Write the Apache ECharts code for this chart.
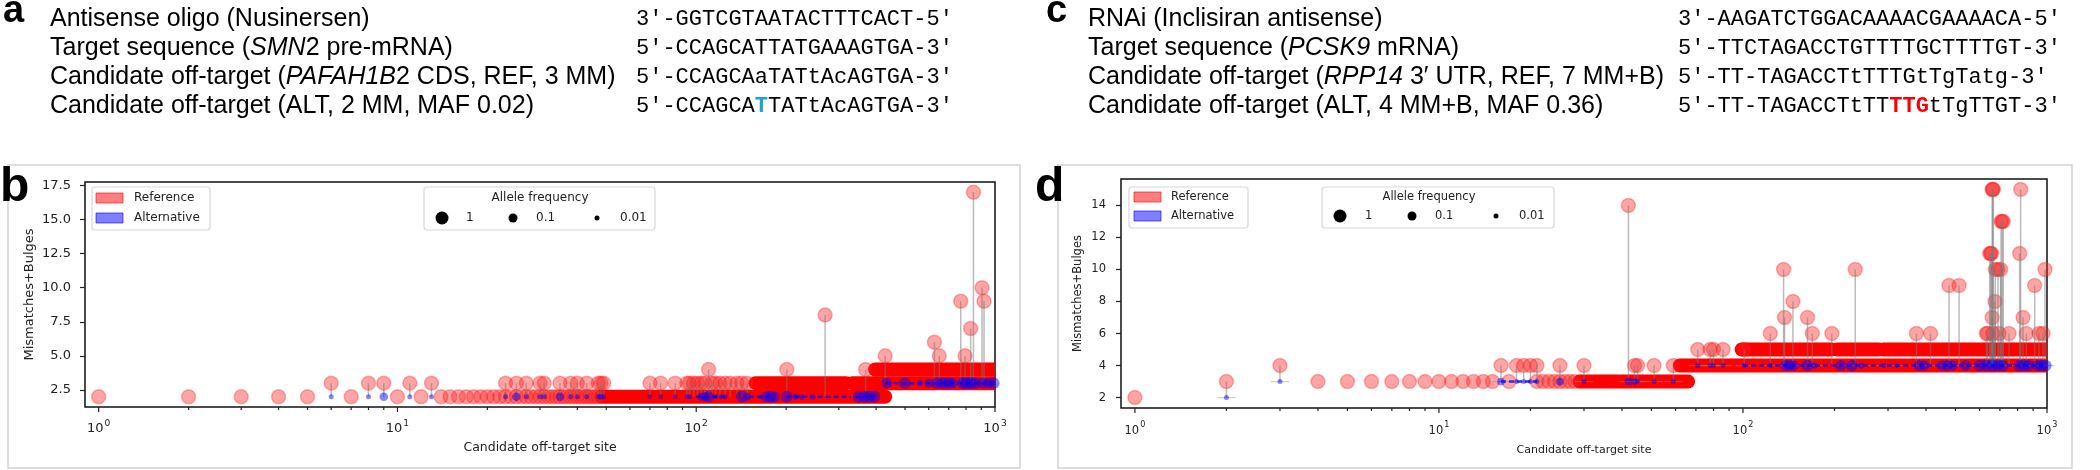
<!DOCTYPE html>
<html><head><meta charset="utf-8">
<script src="https://cdn.jsdelivr.net/npm/echarts@6/dist/echarts.min.js"></script>
<style>html,body{margin:0;padding:0;background:#fff}#c{width:2100px;height:470px}</style>
</head><body><div id="c"></div>
<script>
// ---------------- DATA ----------------
const panelALabels = ['Antisense oligo (Nusinersen)', 'Target sequence ({i|SMN}2 pre-mRNA)', 'Candidate off-target ({i|PAFAH1B}2 CDS, REF, 3 MM)', 'Candidate off-target (ALT, 2 MM, MAF 0.02)'];
const panelASeqs = ['3\u2032-GGTCGTAATACTTTCACT-5\u2032', '5\u2032-CCAGCATTATGAAAGTGA-3\u2032', '5\u2032-CCAGCAaTATtAcAGTGA-3\u2032', '5\u2032-CCAGCA{h|T}TATtAcAGTGA-3\u2032'];
const panelCLabels = ['RNAi (Inclisiran antisense)', 'Target sequence ({i|PCSK9} mRNA)', 'Candidate off-target ({i|RPP14} 3\u2032 UTR, REF, 7 MM+B)', 'Candidate off-target (ALT, 4 MM+B, MAF 0.36)'];
const panelCSeqs = ['3\u2032-AAGATCTGGACAAAACGAAAACA-5\u2032', '5\u2032-TTCTAGACCTGTTTTGCTTTTGT-3\u2032', '5\u2032-TT-TAGACCTtTTTGtTgTatg-3\u2032', '5\u2032-TT-TAGACCTtTT{r|TTG}tTgTTGT-3\u2032'];

const xMajorTicks = [1, 10, 100, 1000];
const xMinorTicks = [2,3,4,5,6,7,8,9,20,30,40,50,60,70,80,90,200,300,400,500,600,700,800,900];
const yTicksB = [2.5, 5, 7.5, 10, 12.5, 15, 17.5];
const yTicksD = [2, 4, 6, 8, 10, 12, 14];
const afLegend = [1, 0.1, 0.01];

// [site rank, REF mismatches+bulges, ALT mismatches+bulges (stem base, optional)]
const refPointsB = [
 [1,2],[2,2],[3,2],[4,2],[5,2],[6,3,2],[7,2],[8,3,2],[9,3,2],[10,2],[11,3,2],[12,2],[13,3,2],
 [14,2],[15,2],[16,2],[17,2],[18,2],[19,2],[20,2],[21,2],[22,2],[23,2],[24,2],[25,2],[26,2],[27,2],[28,2],[29,2],[30,2],
 [31,2],[32,2],[33,2],[34,2],[35,2],[36,2],[37,2],[38,2],[39,2],[40,2],[41,2],[42,2],[43,2],[44,2],[45,2],[46,2],[47,2],
 [23,3,2],[25,3,2],[27,3,2],[30,3,2],[31,3,2],[35,3,2],[38,3,2],[40,3,2],[43,3,2],[47,3,2],[48,3,2],[49,3,2],[70,3,2],
 [76,3,2],[85,3,2],[93,3,2],[95,3,2],[98,3,2],[101,3,2],[104,3,2],[107,3,2],[113,3,2],[116,3,2],[120,3,2],[125,3,2],
 [130,3,2],[137,3,2],[142,3,2],[148,3,2],
 [110,4,2],[201,4,2],[270,8,2],[369,4,2],[429,5,3],[627,6,3],[651,5,3],[768,9,3],[794,5,3],[829,7,3],[847,17,3],[905,10,3],[919,9,3]
];
// dense runs of consecutive sites: [first rank, last rank, value]
const refBandsB = [[48,429,2],[158,318,3],[333,1000,3],[397,1000,4]];
// [site rank, ALT value, allele frequency]
const altPointsB = [
 [6,2,0.01],[8,2,0.01],[9,2,0.08],[11,2,0.01],[13,2,0.01],[23,2,0.01],[25,2,0.08],[27,2,0.01],[30,2,0.01],[31,2,0.01],
 [35,2,0.08],[38,2,0.01],[40,2,0.01],[43,2,0.01],[47,2,0.01],[48,2,0.02],[49,2,0.01],[70,2,0.01],[76,2,0.01],[85,2,0.01],
 [93,2,0.01],[95,2,0.01],[104,2,0.05],[107,2,0.1],[110,2,0.3],[116,2,0.01],[121,2,0.01],[125,2,0.01],[142,2,0.5],[148,2,0.05],
 [165,2,0.01],[172,2,0.3],[177,2,0.5],[183,2,0.3],[201,2,0.5],[215,2,0.02],[225,2,0.02],[245,2,0.02],[350,2,0.5],[365,2,0.6],
 [380,2,0.6],[395,2,0.5],[434,3,0.3],[500,3,0.5],[560,3,0.02],[600,3,0.1],[640,3,0.5],[670,3,0.6],[700,3,0.5],[720,3,0.3],
 [780,3,0.5],[800,3,0.6],[830,3,0.6],[860,3,0.4],[910,3,0.3],[950,3,0.3],[990,3,0.5]
];
const altBandsB = [[100,125,2],[150,175,2],[200,245,2],[255,330,2],[340,400,2],[430,1000,3]];

const refPointsD = [
 [1,2],[2,3,2],[3,4,3],[4,3],[5,3],[6,3],[7,3],[8,3],[9,3],[10,3],[11,3],[12,3],[13,3],[14,3],[15,3],[16,4,3],[17,3],
 [18,4,3],[19,4,3],[20,4,3],[21,4,3],[21,3],[22,3],[23,3],[24,3],[25,3],[25,4,3],[26,3],[27,3],[28,3],[30,4,3],[42,14,3],
 [44,4,3],[45,4,3],[51,4,3],[59,4,3],[71,5,4],[78,5,4],[80,5,4],[86,5,4],[101,5,4],
 [123,6,4],[136,10,4],[137,7,4],[146,8,4],[163,7,4],[169,6,4],[196,6,4],[234,10,4],[372,6,4],[414,6,4],[476,9,4],[514,9,4],
 [632,6,4],[637,6,4],[648,11,4],[653,11,4],[657,11,4],[660,15,4],[663,15,4],[666,15,4],[660,7,4],[664,6,4],[674,8,4],
 [676,10,4],[690,10,4],[695,6,4],[704,10,4],[706,13,4],[712,13,4],[718,13,4],[750,6,4],[813,11,4],[819,15,4],[834,7,4],
 [855,6,4],[911,9,4],[941,6,4],[970,6,4],[985,10,4]
];
const refBandsD = [[29,66,3],[62,1000,4],[99,196,5],[204,280,5],[290,1000,5]];
const altPointsD = [
 [2,2,0.01],[3,3,0.01],[16,3,0.05],[18,3,0.01],[19,3,0.01],[20,3,0.01],[21,3,0.01],[25,3,0.05],[30,3,0.01],[42,3,0.05],
 [44,3,0.02],[45,3,0.01],[51,3,0.01],[59,3,0.01],[71,4,0.01],[78,4,0.01],[80,4,0.01],[86,4,0.01],[101,4,0.01],[123,4,0.01],
 [138,4,0.3],[142,4,0.3],[147,4,0.2],[163,4,0.5],[172,4,0.02],[210,4,0.3],[228,4,0.5],[245,4,0.02],[290,4,0.01],[320,4,0.01],
 [380,4,0.3],[395,4,0.2],[450,4,0.2],[470,4,0.3],[490,4,0.2],[540,4,0.3],[600,4,0.5],[630,4,0.6],[660,4,0.8],[690,4,0.6],
 [715,4,0.5],[810,4,0.5],[840,4,0.6],[870,4,0.4],[930,4,0.3],[960,4,0.5],[990,4,0.5]
];
const altBandsD = [[16,21,3],[100,1000,4]];

// ---------------- STYLE / LAYOUT ----------------
const PF = 'DejaVu Sans';
const TF = 'Liberation Sans, Arial, sans-serif';
const MF = 'Liberation Mono, Courier New, monospace';
const REF_FILL = 'rgba(255,30,30,0.5)';
const ALT_FILL = 'rgba(0,0,255,0.6)';
function afSize(af) { return Math.max(3, 13 + 4 * Math.log10(af)); }

const P = {
  b: {grid: {left: 85, top: 182, width: 910, height: 225}, ymin: 1.25, ymax: 17.75, fs: 13, nameGap: 49, xNameGap: 34, lblMargin: 14, xlblMargin: 12},
  d: {grid: {left: 1121, top: 179, width: 926, height: 229}, ymin: 1.35, ymax: 15.65, fs: 11.5, nameGap: 37, xNameGap: 37, lblMargin: 15, xlblMargin: 13}
};

function xLabelFmt(v) {
  const e = Math.round(Math.log10(v));
  if (Math.abs(v - Math.pow(10, e)) > 1e-6 * v) return '';
  return '{b|10}{s|' + e + '}';
}

function xAxisCfg(gi, cfg) {
  return {
    type: 'log', logBase: 10, gridIndex: gi, min: 0.9, max: 1000,
    axisLine: {show: false}, axisTick: {show: false}, splitLine: {show: false}, minorTick: {show: false},
    axisLabel: {showMinLabel: false, formatter: xLabelFmt, margin: cfg.xlblMargin,
      rich: {
        b: {fontSize: cfg.fs, fontFamily: PF, color: '#222', lineHeight: 16, verticalAlign: 'bottom'},
        s: {fontSize: cfg.fs * 0.7, fontFamily: PF, color: '#222', lineHeight: 9, verticalAlign: 'top', padding: [0, 0, 0, 1]}
      }},
    name: 'Candidate off-target site', nameLocation: 'middle', nameGap: cfg.xNameGap,
    nameTextStyle: {fontSize: cfg.fs - 0.5, fontFamily: PF, color: '#222'}
  };
}
function yAxisCfg(gi, cfg, ticks, fmt) {
  return {
    type: 'value', gridIndex: gi, min: cfg.ymin, max: cfg.ymax,
    axisLine: {show: false}, splitLine: {show: false},
    axisTick: {show: true, length: 5, customValues: ticks, lineStyle: {color: '#222', width: 1.2}},
    axisLabel: {customValues: ticks, formatter: fmt, margin: cfg.lblMargin, fontSize: cfg.fs, fontFamily: PF, color: '#222'},
    name: 'Mismatches+Bulges', nameLocation: 'middle', nameGap: cfg.nameGap, nameRotate: 90,
    nameTextStyle: {fontSize: cfg.fs, fontFamily: PF, color: '#222'}
  };
}

function lineRun(gi, data, stroke, width, dash, z) {
  return {type: 'custom', xAxisIndex: gi, yAxisIndex: gi, clip: true, z: z, silent: true, animation: false,
    data: data, encode: {x: [0, 1], y: 2},
    renderItem: function (p, api) {
      const y = api.value(2);
      const a = api.coord([api.value(0), y]), b = api.coord([api.value(1), y]);
      return {type: 'line', shape: {x1: a[0], y1: a[1], x2: b[0], y2: b[1]},
        style: {stroke: stroke, lineWidth: width, lineCap: dash ? 'butt' : 'round', lineDash: dash || null}};
    }};
}
function tickSeries(gi, values, yMin, len) {
  return {type: 'custom', xAxisIndex: gi, yAxisIndex: gi, clip: false, z: 10, silent: true, animation: false,
    data: values.map(v => [v, yMin]), encode: {x: 0, y: 1},
    renderItem: function (p, api) {
      const a = api.coord([api.value(0), api.value(1)]);
      return {type: 'line', shape: {x1: a[0], y1: a[1], x2: a[0], y2: a[1] + len}, style: {stroke: '#222', lineWidth: 1.2}};
    }};
}
function panelSeries(gi, cfg, refPoints, refBands, altPoints, altBands, altBars) {
  const s = [];
  s.push(lineRun(gi, refBands, 'rgb(255,0,0)', 14, null, 2));
  s.push({type: 'scatter', name: 'Reference', xAxisIndex: gi, yAxisIndex: gi, z: 3, silent: true, animation: false,
    symbolSize: 14, data: refPoints.map(p => [p[0], p[1]]),
    itemStyle: {color: REF_FILL, borderColor: 'rgba(255,0,0,0.35)', borderWidth: 1.5}});
  s.push({type: 'custom', xAxisIndex: gi, yAxisIndex: gi, clip: true, z: 4, silent: true, animation: false,
    data: refPoints.filter(p => p.length > 2), encode: {x: 0, y: [1, 2]},
    renderItem: function (p, api) {
      const a = api.coord([api.value(0), api.value(2)]), b = api.coord([api.value(0), api.value(1)]);
      return {type: 'line', shape: {x1: a[0], y1: a[1], x2: b[0], y2: b[1]}, style: {stroke: 'rgba(120,120,120,0.5)', lineWidth: 1.5}};
    }});
  if (altBars) {
    s.push({type: 'scatter', xAxisIndex: gi, yAxisIndex: gi, z: 4, silent: true, animation: false,
      symbol: 'rect', symbolSize: [18, 1.2], data: altPoints.map(p => [p[0], p[1]]),
      itemStyle: {color: 'rgba(140,140,140,0.55)'}});
  }
  s.push(lineRun(gi, altBands, 'rgba(0,0,255,0.75)', 2.5, [5, 3], 5));
  s.push({type: 'scatter', name: 'Alternative', xAxisIndex: gi, yAxisIndex: gi, z: 6, silent: true, animation: false,
    data: altPoints, symbolSize: v => afSize(v[2]), itemStyle: {color: ALT_FILL}});
  s.push(tickSeries(gi, xMajorTicks, cfg.ymin, 5));
  s.push(tickSeries(gi, xMinorTicks, cfg.ymin, 3));
  return s;
}

// ---------------- GRAPHIC (text panels, frames, legends) ----------------
const textRowsY = [19, 48, 77, 106];
const G = [];
function txt(x, y, text, font, extra) {
  G.push({type: 'text', x: x, y: y, z: 20, silent: true,
    style: Object.assign({text: text, font: font, fill: '#000', verticalAlign: 'middle', align: 'left'}, extra || {})});
}
const LBL_FS = 25, SEQ_FS = 22;
const labelRich = {i: {fontStyle: 'italic', fontSize: LBL_FS, fontFamily: TF, fill: '#000'}};
const seqRich = {
  h: {fontWeight: 'bold', fontSize: SEQ_FS, fontFamily: MF, fill: '#19a3e0'},
  r: {fontWeight: 'bold', fontSize: SEQ_FS, fontFamily: MF, fill: '#ff0000'}
};
function textPanel(letter, lx, labels, tx, seqs, sx) {
  txt(lx, 12, letter, 'bold 38px ' + TF);
  labels.forEach((t, i) => txt(tx, textRowsY[i], t, LBL_FS + 'px ' + TF, {rich: labelRich}));
  seqs.forEach((t, i) => txt(sx, textRowsY[i], t, SEQ_FS + 'px ' + MF, {rich: seqRich}));
}
textPanel('a', 3, panelALabels, 50, panelASeqs, 636);
textPanel('c', 1046, panelCLabels, 1088, panelCSeqs, 1678);

// frames
G.push({type: 'rect', z: 0, silent: true, shape: {x: 8, y: 165, width: 1012, height: 303}, style: {fill: 'none', stroke: '#d2d2d2', lineWidth: 1.5}});
G.push({type: 'rect', z: 0, silent: true, shape: {x: 1058, y: 165, width: 1014, height: 303}, style: {fill: 'none', stroke: '#d2d2d2', lineWidth: 1.5}});
txt(0, 188, 'b', 'bold 48px ' + TF);
txt(1035, 188, 'd', 'bold 48px ' + TF);

function legends(L) {
  const fnt = L.fs + 'px ' + PF;
  G.push({type: 'rect', z: 15, silent: true, shape: {x: L.rx, y: L.ry, width: L.rw, height: L.rh, r: 3}, style: {fill: '#fff', stroke: '#d8d8d8', lineWidth: 1.2}});
  G.push({type: 'rect', z: 16, silent: true, shape: {x: L.px, y: L.py1, width: 27, height: 10}, style: {fill: 'rgba(255,0,0,0.5)', stroke: 'rgba(255,0,0,0.6)', lineWidth: 1}});
  G.push({type: 'rect', z: 16, silent: true, shape: {x: L.px, y: L.py2, width: 27, height: 10}, style: {fill: 'rgba(0,0,255,0.5)', stroke: 'rgba(0,0,255,0.6)', lineWidth: 1}});
  txt(L.tx, L.py1 + 5, 'Reference', fnt, {fill: '#222'});
  txt(L.tx, L.py2 + 5, 'Alternative', fnt, {fill: '#222'});
  G.push({type: 'rect', z: 15, silent: true, shape: {x: L.ax, y: L.ry, width: L.aw, height: L.rh, r: 3}, style: {fill: '#fff', stroke: '#d8d8d8', lineWidth: 1.2}});
  txt(L.atx, L.py1 + 5, 'Allele frequency', fnt, {fill: '#222', align: 'center'});
  afLegend.forEach((af, i) => {
    G.push({type: 'circle', z: 16, silent: true, shape: {cx: L.dx[i], cy: L.dy, r: afSize(af) / 2}, style: {fill: '#000'}});
    txt(L.lx[i], L.dy, String(af), fnt, {fill: '#222'});
  });
}
legends({fs: 12, rx: 92, ry: 187, rw: 118, rh: 43, px: 96, py1: 193, py2: 213, tx: 134,
  ax: 424, aw: 231, atx: 540, dx: [442, 513, 597], dy: 218, lx: [466, 536, 620]});
legends({fs: 11.5, rx: 1129, ry: 187, rw: 119, rh: 41, px: 1134, py1: 192, py2: 211, tx: 1171,
  ax: 1322, aw: 232, atx: 1429, dx: [1340, 1412, 1496], dy: 216, lx: [1365, 1435, 1519]});

// ---------------- CHART ----------------
const chart = echarts.init(document.getElementById('c'), null, {renderer: 'canvas', width: 2100, height: 470});
const gridBase = {show: true, borderColor: '#111', borderWidth: 1.5, backgroundColor: 'transparent', containLabel: false, outerBoundsMode: 'none'};
chart.setOption({
  animation: false,
  backgroundColor: '#fff',
  grid: [Object.assign({}, gridBase, P.b.grid), Object.assign({}, gridBase, P.d.grid)],
  xAxis: [xAxisCfg(0, P.b), xAxisCfg(1, P.d)],
  yAxis: [yAxisCfg(0, P.b, yTicksB, v => v.toFixed(1)), yAxisCfg(1, P.d, yTicksD, v => String(v))],
  series: [].concat(
    panelSeries(0, P.b, refPointsB, refBandsB, altPointsB, altBandsB, false),
    panelSeries(1, P.d, refPointsD, refBandsD, altPointsD, altBandsD, true)
  ),
  graphic: {elements: G}
});
</script>
</body></html>
